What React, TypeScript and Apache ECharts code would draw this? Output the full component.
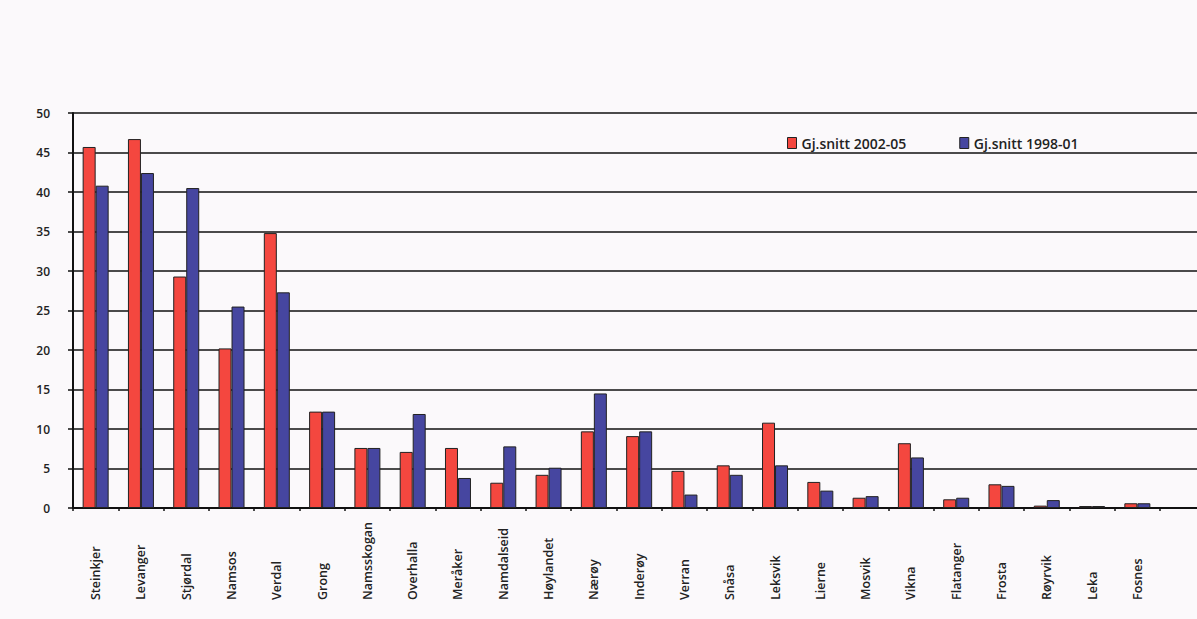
import React, { useEffect, useRef } from "react";
import * as echarts from "echarts";

const categories = [
  "Steinkjer", "Levanger", "Stjørdal", "Namsos", "Verdal", "Grong", "Namsskogan", "Overhalla",
  "Meråker", "Namdalseid", "Høylandet", "Nærøy", "Inderøy", "Verran", "Snåsa", "Leksvik",
  "Lierne", "Mosvik", "Vikna", "Flatanger", "Frosta", "Røyrvik", "Leka", "Fosnes",
];
const avg2002_05 = [45.7, 46.7, 29.3, 20.2, 34.8, 12.2, 7.6, 7.1, 7.6, 3.2, 4.2, 9.7, 9.1, 4.7, 5.4, 10.8, 3.3, 1.3, 8.2, 1.1, 3.0, 0.3, 0.25, 0.6];
const avg1998_01 = [40.8, 42.4, 40.5, 25.5, 27.3, 12.2, 7.6, 11.9, 3.8, 7.8, 5.1, 14.5, 9.7, 1.7, 4.2, 5.4, 2.2, 1.5, 6.4, 1.3, 2.8, 1.0, 0.25, 0.6];
const seriesNames = ["Gj.snitt 2002-05", "Gj.snitt 1998-01"];
const yTicks = { min: 0, max: 50, interval: 5 };

const RED = "#f4473f";
const BLUE = "#4646a0";
const FONT = "'Open Sans', sans-serif";

export default function App() {
  const ref = useRef<HTMLDivElement>(null);
  useEffect(() => {
    if (!ref.current) return;
    const chart = echarts.init(ref.current, undefined, { renderer: "svg" });
    chart.setOption({
      animation: false,
      backgroundColor: "#fbf9fb",
      textStyle: { fontFamily: FONT },
      legend: {
        left: 782,
        top: 131,
        icon: "rect",
        itemWidth: 9,
        itemHeight: 11,
        itemGap: 53,
        textStyle: { fontFamily: FONT, fontSize: 14, fontWeight: 600, color: "#222" },
        data: seriesNames.map((n) => ({ name: n, itemStyle: { borderColor: "#222", borderWidth: 1 } })),
      },
      grid: [
        { left: 73, right: 0, top: 113, bottom: 111 },
        { left: 73, right: 37, top: 113, bottom: 111 },
      ],
      xAxis: [
        {
          gridIndex: 0,
          type: "value",
          min: 0,
          max: 1,
          axisLine: { show: true, lineStyle: { color: "#111", width: 2 } },
          axisTick: { show: false },
          axisLabel: { show: false },
          splitLine: { show: false },
        },
        {
          gridIndex: 1,
          type: "category",
          data: categories,
          axisLine: { show: false },
          axisTick: { show: true, length: 3, lineStyle: { color: "#111", width: 1.5 } },
          axisLabel: {
            rotate: 90,
            align: "left",
            margin: 92,
            interval: 0,
            fontFamily: FONT,
            fontSize: 12.5,
            fontWeight: 600,
            color: "#222",
          },
        },
      ],
      yAxis: [
        {
          gridIndex: 0,
          type: "value",
          ...yTicks,
          axisLine: { show: true, lineStyle: { color: "#111", width: 2 } },
          axisTick: { show: true, length: 5, lineStyle: { color: "#111", width: 1.5 } },
          axisLabel: { margin: 23, fontFamily: FONT, fontSize: 12, fontWeight: 600, color: "#222" },
          splitLine: { show: true, lineStyle: { color: "#111", width: 1.5 } },
        },
        {
          gridIndex: 1,
          type: "value",
          ...yTicks,
          show: false,
          splitLine: { show: false },
        },
      ],
      series: [
        {
          name: seriesNames[0],
          type: "bar",
          xAxisIndex: 1,
          yAxisIndex: 1,
          data: avg2002_05,
          barWidth: 13,
          barGap: "0%",
          itemStyle: { color: RED, borderColor: "#222", borderWidth: 1 },
        },
        {
          name: seriesNames[1],
          type: "bar",
          xAxisIndex: 1,
          yAxisIndex: 1,
          data: avg1998_01,
          barWidth: 13,
          barGap: "0%",
          itemStyle: { color: BLUE, borderColor: "#222", borderWidth: 1 },
        },
      ],
    });
    return () => chart.dispose();
  }, []);
  return (
    <div
      ref={ref}
      style={{ position: "fixed", left: 0, top: 0, width: 1197, height: 619 }}
    />
  );
}
